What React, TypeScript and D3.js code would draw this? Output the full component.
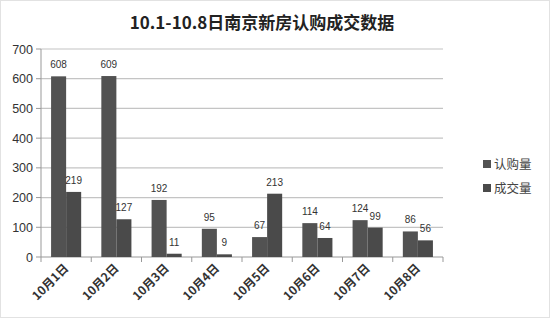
import React from "react";
import * as d3 from "d3";

const categories = ["10月1日", "10月2日", "10月3日", "10月4日", "10月5日", "10月6日", "10月7日", "10月8日"];
const subscribed = [608, 609, 192, 95, 67, 114, 124, 86];
const closed = [219, 127, 11, 9, 213, 64, 99, 56];
const seriesNames = ["认购量", "成交量"];
const yTicks = [0, 100, 200, 300, 400, 500, 600, 700];

const W = 550, H = 318;
const M = { left: 41, right: 107, top: 49, bottom: 61 };

export default function App() {
  const x = d3.scaleBand<string>().domain(categories).range([M.left, W - M.right]).paddingInner(0).paddingOuter(0);
  const y = d3.scaleLinear().domain([0, 700]).range([H - M.bottom, M.top]);
  const inner = d3.scaleBand<number>().domain([0, 1]).range([0, x.bandwidth()]).paddingOuter(0.67).paddingInner(0);
  const colors = ["#525252", "#4a4a4a"];
  const series = [subscribed, closed];
  const font = "'Liberation Sans', Arial, sans-serif";
  const cjk = "'Noto Sans CJK SC', sans-serif";
  return (
    <svg width={W} height={H} style={{ position: "absolute", left: 0, top: 0, background: "#fff" }}>
      <rect x={0.5} y={0.5} width={W - 1} height={H - 1} fill="#fff" stroke="#e2e2e2" />
      <text x={262} y={29} textAnchor="middle" fontFamily={cjk} fontWeight="bold" fontSize={17} fill="#222">
        10.1-10.8日南京新房认购成交数据
      </text>
      {yTicks.map((t) => (
        <g key={t}>
          {t > 0 && <line x1={M.left} x2={W - M.right} y1={y(t)} y2={y(t)} stroke="#c4c4c4" strokeWidth={1.2} />}
          <line x1={M.left - 5} x2={M.left} y1={y(t)} y2={y(t)} stroke="#999" />
          <text x={33} y={y(t) + 4.5} textAnchor="end" fontFamily={font} fontSize={12.5} fill="#333">{t}</text>
        </g>
      ))}
      <line x1={M.left} x2={M.left} y1={M.top} y2={y(0)} stroke="#999" />
      <line x1={M.left} x2={W - M.right} y1={y(0)} y2={y(0)} stroke="#999" />
      {categories.map((c) => (
        <line key={c} x1={x(c)!} x2={x(c)!} y1={y(0)} y2={y(0) + 5} stroke="#999" />
      ))}
      <line x1={W - M.right} x2={W - M.right} y1={y(0)} y2={y(0) + 5} stroke="#999" />
      {series.map((s, si) =>
        s.map((v, i) => {
          const bx = x(categories[i])! + inner(si)!;
          return (
            <g key={si + "-" + i}>
              <rect x={bx} y={y(v)} width={inner.bandwidth()} height={y(0) - y(v)} fill={colors[si]} />
              <text x={bx + inner.bandwidth() / 2} y={y(v) - 8} textAnchor="middle" fontFamily={font} fontSize={10} fill="#333">{v}</text>
            </g>
          );
        })
      )}
      {categories.map((c) => {
        const cx = x(c)! + x.bandwidth() / 2 + 3;
        const cy = y(0) + 12;
        return (
          <text key={c} transform={`translate(${cx},${cy}) rotate(-45)`} textAnchor="end" fontFamily={cjk} fontWeight="bold" fontSize={12} fill="#333">
            {c}
          </text>
        );
      })}
      {seriesNames.map((n, i) => (
        <g key={n} transform={`translate(487,${164 + i * 24})`}>
          <rect x={-4} y={-4} width={8} height={8} fill={colors[i]} />
          <text x={7} y={4.5} fontFamily={cjk} fontSize={12.5} fill="#444">{n}</text>
        </g>
      ))}
    </svg>
  );
}
